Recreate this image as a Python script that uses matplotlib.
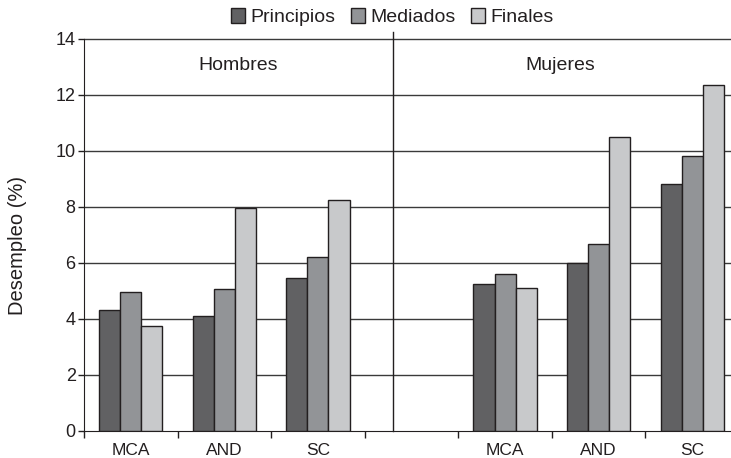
import matplotlib.pyplot as plt
import numpy as np

plt.rcParams['font.family'] = ['Liberation Sans', 'DejaVu Sans']

# datos
categorias = ['MCA', 'AND', 'SC', '', 'MCA', 'AND', 'SC']
principios = [4.3, 4.1, 5.45, np.nan, 5.25, 6.0, 8.8]
mediados = [4.95, 5.05, 6.2, np.nan, 5.6, 6.65, 9.8]
finales = [3.75, 7.95, 8.25, np.nan, 5.1, 10.5, 12.35]
series = ['Principios', 'Mediados', 'Finales']
colores = ['#616163', '#929497', '#c8c9cb']
grupos = ['Hombres', 'Mujeres']

fig = plt.figure(figsize=(7.31, 4.58), dpi=100)
ax = fig.add_axes([84 / 731, 27.5 / 458, 655 / 731, 398.6 / 458])

x = np.arange(len(categorias))
w = 0.225
for k, (vals, nombre) in enumerate(zip([principios, mediados, finales], series)):
    ax.bar(x + (k - 1) * w, vals, w, color=colores[k], edgecolor='#231f20',
           linewidth=1, label=nombre, zorder=3)

ax.set_xlim(-0.5, len(categorias) - 0.5)
ax.set_ylim(0, 14.25)
ax.set_yticks(range(0, 15, 2))
for v in range(2, 15, 2):
    ax.axhline(v, color='#3a3a3a', lw=1, zorder=1)

# divisor entre hombres y mujeres
ax.plot([2.8, 2.8], [0, 14.25], color='#231f20', lw=1, clip_on=False, zorder=2)

ax.set_xticks(np.arange(-0.5, len(categorias)))
ax.set_xticklabels([])
ax.set_xticks(x, minor=True)
ax.set_xticklabels(categorias, minor=True)
ax.tick_params(axis='x', which='major', length=5, width=1, direction='out', color='#231f20')
ax.tick_params(axis='x', which='minor', length=0, pad=9, labelsize=12.5, labelcolor='#231f20')
ax.tick_params(axis='y', length=4, width=1, color='#231f20', labelsize=13, labelcolor='#231f20', pad=2)

for s in ['top', 'right']:
    ax.spines[s].set_visible(False)
ax.spines['left'].set_bounds(0, 14)
ax.spines['left'].set_color('#231f20')
ax.spines['bottom'].set_color('#231f20')

ax.text(1.15, 13.04, grupos[0], ha='center', va='center', fontsize=14, color='#231f20')
ax.text(4.59, 13.04, grupos[1], ha='center', va='center', fontsize=14, color='#231f20')

fig.text(18 / 731, 0.465, 'Desempleo (%)', rotation=90, ha='center', va='center',
         fontsize=14.5, color='#231f20')

fig.legend(loc='upper center', bbox_to_anchor=(392 / 731, 1.02), ncol=3, frameon=False,
           fontsize=14, handlelength=0.75, handleheight=0.75, handletextpad=0.25,
           columnspacing=0.8, labelcolor='#231f20')

fig.savefig('out.png', dpi=100)
